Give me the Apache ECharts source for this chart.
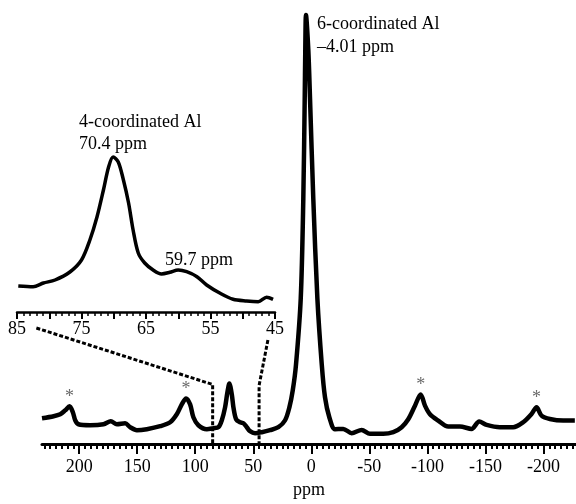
<!DOCTYPE html>
<html>
<head>
<meta charset="utf-8">
<script src="https://cdn.jsdelivr.net/npm/echarts@6/dist/echarts.min.js"></script>
<style>
  html, body { margin: 0; padding: 0; background: #fff; }
  #chart { width: 576px; height: 504px; }
</style>
</head>
<body>
<div id="chart"></div>
<script>
// full spectrum: [ppm, intensity]
var spectrum = [
  [232, 26], [222, 28], [216.3, 30], [212, 34], [208.3, 38], [205.4, 32], [203.4, 24],
  [200.6, 20], [190.5, 19], [179, 20], [172.7, 23], [167.5, 20], [160.4, 21], [156, 17],
  [150.3, 14], [141.7, 15], [130.2, 18], [121.6, 22], [115.9, 30], [111.6, 40], [107.9, 46],
  [104.4, 40], [101.6, 27], [97.3, 19], [90, 15], [84.4, 16], [80, 17], [77.1, 24],
  [74.3, 37], [72.3, 52], [70.6, 61], [68.5, 50], [67.1, 37], [64.8, 25], [61.4, 22],
  [58.5, 21], [55.6, 17], [52.8, 13], [48.5, 11], [42.7, 12], [35.6, 14], [28.4, 17],
  [22.6, 24], [18.9, 37], [16, 54], [13.2, 80], [9.1, 147], [6.9, 247],
  [5.7, 347], [5.2, 397], [4.6, 432], [2.6, 397], [1.1, 347], [-1.7, 247], [-5.2, 147],
  [-9, 80], [-11.8, 47], [-15.5, 27], [-20.4, 15], [-27.5, 15.3], [-34.8, 11], [-43.4, 14.3],
  [-50.5, 10.3], [-62, 10.3], [-70.6, 12], [-77.8, 17], [-83.5, 25], [-89.3, 38.7],
  [-94.2, 50], [-97.9, 38.7], [-102.2, 30], [-109.3, 23.7], [-117.9, 17.7], [-128, 17.7],
  [-138, 15.3], [-144.6, 22.7], [-151, 19.3], [-162.4, 17], [-173.9, 17], [-182.5, 22],
  [-189.7, 30.3], [-194, 37], [-198.3, 28.7], [-205.5, 25.3], [-217, 23.7], [-227, 23.7]
];

// expanded 85-45 ppm region
var insetSpectrum = [
  [84.8, 26], [82.5, 25.3], [80.9, 29], [79.1, 32], [76.8, 40], [75, 52], [73.7, 72],
  [72.6, 95], [71.6, 122], [70.8, 145], [70.1, 155], [69.3, 150], [68.5, 132], [67.7, 109],
  [67, 82], [66.2, 59], [65.2, 49], [63.9, 42], [62.6, 38], [61.3, 39.7], [60, 42],
  [58.7, 40.3], [57.1, 35.3], [55.6, 27], [53.5, 18.7], [51.5, 12.7], [49.4, 11],
  [47.6, 10.3], [46.3, 14.7], [45.3, 12.7]
];

// spinning sidebands (*)
var sidebands = [[208.3, 38], [107.9, 46], [-94.2, 50], [-194, 37]];

var mainMajorTicks = [200, 150, 100, 50, 0, -50, -100, -150, -200];
var mainMinorTicks = [];
for (var t = 230; t >= -225; t -= 5) mainMinorTicks.push(t);

var serif = '"Liberation Serif", "DejaVu Serif", serif';

var chart = echarts.init(document.getElementById('chart'));

chart.setOption({
  animation: false,
  grid: [
    { left: 42, right: 0, top: 7, bottom: 57 },
    { left: 17, right: 301, top: 152, bottom: 192 }
  ],
  xAxis: [
    {
      // minor ticks of the main axis
      type: 'value', gridIndex: 0, min: -228, max: 232, inverse: true,
      axisLine: { lineStyle: { color: '#000', width: 3 } },
      axisTick: { customValues: mainMinorTicks, length: 5, lineStyle: { color: '#000', width: 2 } },
      axisLabel: { show: false },
      splitLine: { show: false }
    },
    {
      // major ticks and labels of the main axis
      type: 'value', gridIndex: 0, min: -228, max: 232, inverse: true, position: 'bottom',
      axisLine: { show: false },
      axisTick: { customValues: mainMajorTicks, length: 10, lineStyle: { color: '#000', width: 2 } },
      axisLabel: {
        customValues: mainMajorTicks, margin: 14,
        color: '#000', fontFamily: serif, fontSize: 18
      },
      splitLine: { show: false },
      name: 'ppm', nameLocation: 'middle', nameGap: 32,
      nameTextStyle: { color: '#000', fontFamily: serif, fontSize: 18 }
    },
    {
      type: 'value', gridIndex: 1, min: 45, max: 85, interval: 5, inverse: true,
      axisLine: { lineStyle: { color: '#000', width: 2.5 } },
      axisTick: { length: 7, lineStyle: { color: '#000', width: 2 } },
      minorTick: { show: true, splitNumber: 5, length: 4, lineStyle: { color: '#000', width: 1.5 } },
      axisLabel: {
        margin: 8, color: '#000', fontFamily: serif, fontSize: 18,
        formatter: function (v) { return v % 10 === 5 ? String(v) : ''; }
      },
      splitLine: { show: false }
    }
  ],
  yAxis: [
    { type: 'value', gridIndex: 0, min: 0, max: 440, show: false },
    { type: 'value', gridIndex: 1, min: 0, max: 160, show: false }
  ],
  series: [
    {
      name: 'spectrum', type: 'line', xAxisIndex: 0, yAxisIndex: 0,
      data: spectrum, showSymbol: false, smooth: 0.3,
      lineStyle: { color: '#000', width: 4.5 }
    },
    {
      name: 'sidebands', type: 'scatter', xAxisIndex: 0, yAxisIndex: 0,
      data: sidebands, symbolSize: 0,
      label: {
        show: true, position: 'top', distance: 0, formatter: '*',
        color: '#444', fontFamily: serif, fontSize: 18
      }
    },
    {
      name: 'inset', type: 'line', xAxisIndex: 2, yAxisIndex: 1,
      data: insetSpectrum, showSymbol: false, smooth: 0.3,
      lineStyle: { color: '#000', width: 3.5 }
    }
  ]
});

// dashed connectors between the 85-45 ppm region and the inset axis
function px(gridPoint) { return chart.convertToPixel(gridPoint[0], gridPoint[1]); }
var leftPath = [
  px([{ xAxisIndex: 2, yAxisIndex: 1 }, [82, -16]]),
  px([{ xAxisIndex: 0, yAxisIndex: 0 }, [85, 60]]),
  px([{ xAxisIndex: 0, yAxisIndex: 0 }, [85, 1]])
];
var rightPath = [
  px([{ xAxisIndex: 2, yAxisIndex: 1 }, [46.1, -28]]),
  px([{ xAxisIndex: 0, yAxisIndex: 0 }, [45, 59]]),
  px([{ xAxisIndex: 0, yAxisIndex: 0 }, [45, 1]])
];
var dash = { stroke: '#000', lineWidth: 3, lineDash: [4, 2], fill: null };
var txt = function (x, y, s) {
  return { type: 'text', left: x, top: y, style: { text: s, fill: '#000', font: '18px ' + serif } };
};

chart.setOption({
  graphic: [
    { type: 'polyline', shape: { points: leftPath }, style: dash, z: 1 },
    { type: 'polyline', shape: { points: rightPath }, style: dash, z: 1 },
    txt(79, 113, '4-coordinated Al'),
    txt(79, 135, '70.4 ppm'),
    txt(165, 251, '59.7 ppm'),
    txt(317, 15, '6-coordinated Al'),
    txt(317, 38, '\u20134.01 ppm')
  ]
});
</script>
</body>
</html>
